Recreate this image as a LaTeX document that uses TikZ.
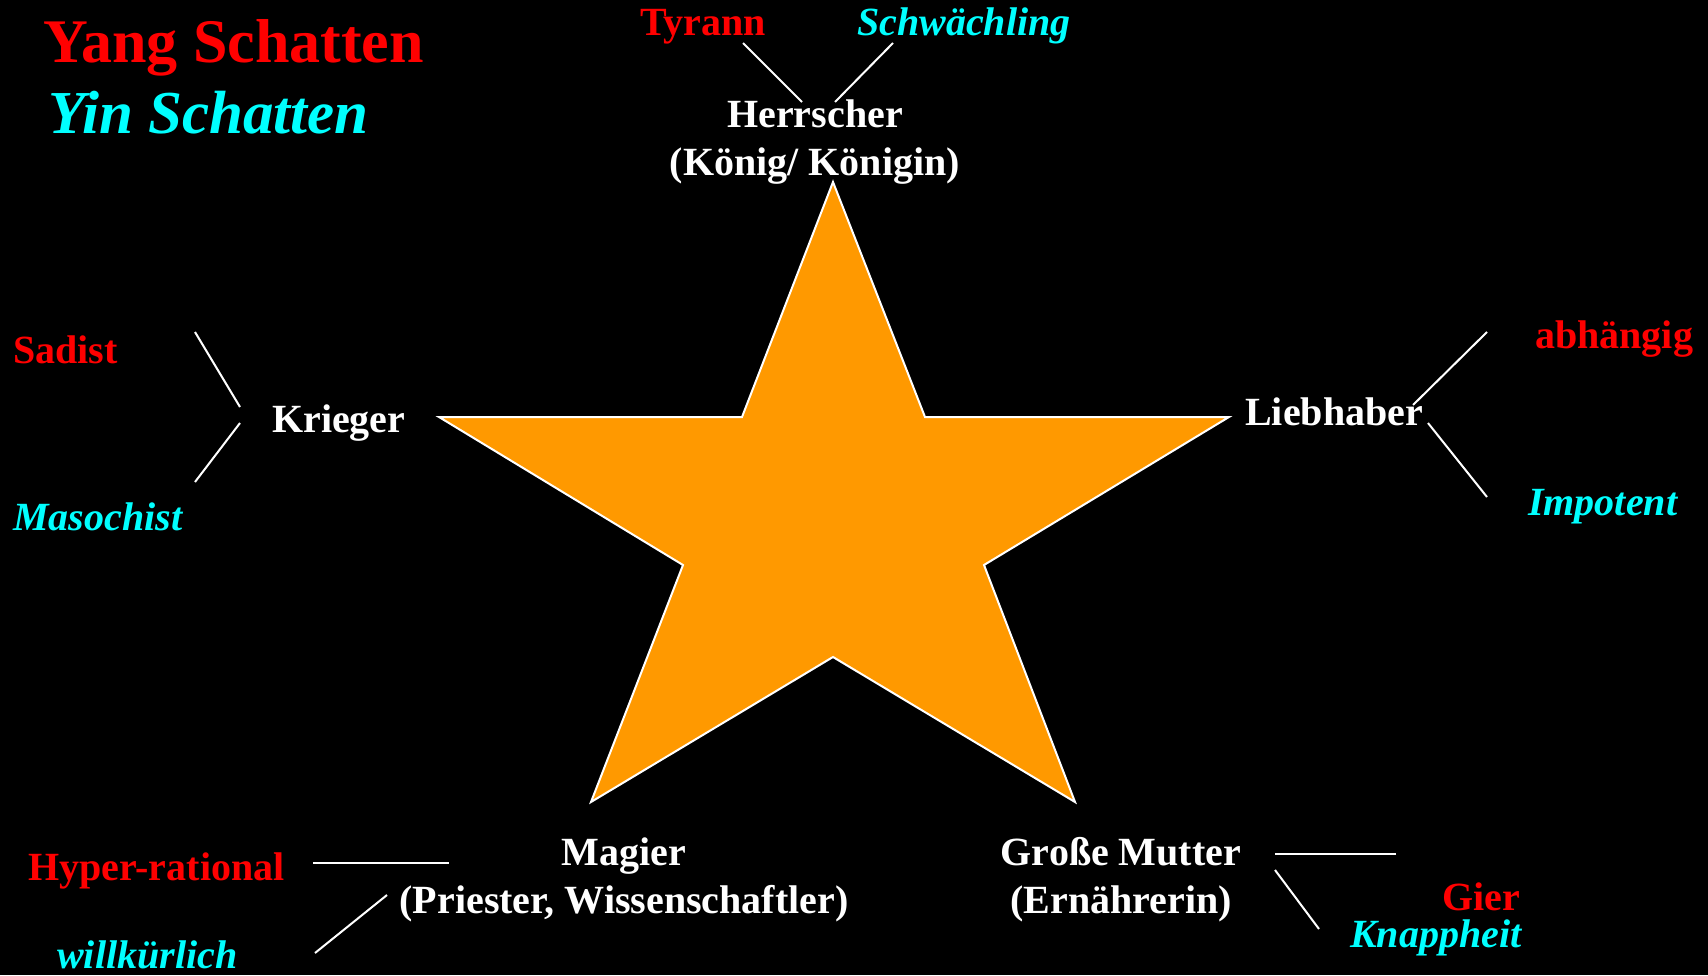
\documentclass[tikz,border=0pt]{standalone}
\usepackage{fontspec}
\setmainfont{Liberation Serif}
\usetikzlibrary{positioning}
\definecolor{yangred}{RGB}{255,0,0}
\definecolor{yincyan}{RGB}{0,255,255}
\definecolor{starorange}{RGB}{255,153,0}

\begin{document}
\begin{tikzpicture}[x=1pt, y=-1pt,
  arch/.style={text=white, font=\fontsize{40}{48}\selectfont\bfseries, inner sep=0pt, align=center, anchor=base},
  yang/.style={text=yangred, font=\fontsize{40}{48}\selectfont\bfseries, inner sep=0pt, anchor=base west},
  yin/.style={text=yincyan, font=\fontsize{40}{48}\selectfont\bfseries\itshape, inner sep=0pt, anchor=base west},
  link/.style={draw=white, line width=2pt},
  stern/.style={draw=white, line width=2pt, fill=starorange, line join=miter}
]
\fill[black] (0,0) rectangle (1708,975);
\useasboundingbox (0,0) rectangle (1708,975);
% legend
\node[yang, font=\fontsize{62}{72}\selectfont\bfseries] (legyang) at (43,62) {Yang Schatten};
\node[yin, font=\fontsize{61}{72}\selectfont\bfseries\itshape] (legyin) at (48,133) {Yin Schatten};
% star
\draw[stern] (833,182) -- (925,417) -- (1229,417) -- (984,565) -- (1075,802)
  -- (833,657) -- (591,802) -- (683,565) -- (439,417) -- (742,417) -- cycle;
% archetypes (base = last line)
\node[arch] (herrscher) at (815,175) {Herrscher\\(König/ Königin)};
\node[arch, anchor=base west] (krieger) at (272,432) {Krieger};
\node[arch, anchor=base west] (liebhaber) at (1245,425) {Liebhaber};
\node[arch] (magier) at (624,913) {Magier\\(Priester, Wissenschaftler)};
\node[arch] (mutter) at (1121,913) {Große Mutter\\(Ernährerin)};
% shadows
\node[yang] (tyrann) at (640,35) {Tyrann};
\node[yin] (schwach) at (857,35) {Schwächling};
\node[yang] (sadist) at (13,363) {Sadist};
\node[yin] (maso) at (13,530) {Masochist};
\node[yang] (abh) at (1535,348) {abhängig};
\node[yin] (impo) at (1528,515) {Impotent};
\node[yang] (hyper) at (28,880) {Hyper-rational};
\node[yin] (willk) at (57,968) {willkürlich};
\node[yang] (gier) at (1442,910) {Gier};
\node[yin] (knapp) at (1350,947) {Knappheit};
% link ends
\coordinate (ty1) at (743,43);   \coordinate (ty2) at (802,102);
\coordinate (sw1) at (893,43);   \coordinate (sw2) at (835,102);
\coordinate (sa1) at (195,332);  \coordinate (sa2) at (240,407);
\coordinate (ma1) at (195,482);  \coordinate (ma2) at (240,423);
\coordinate (ab1) at (1487,332); \coordinate (ab2) at (1413,405);
\coordinate (im1) at (1487,497); \coordinate (im2) at (1428,423);
\coordinate (hy1) at (313,863);  \coordinate (hy2) at (449,863);
\coordinate (wi1) at (315,953);  \coordinate (wi2) at (387,895);
\coordinate (gi1) at (1396,854); \coordinate (gi2) at (1275,854);
\coordinate (kn1) at (1319,929); \coordinate (kn2) at (1275,870);
\foreach \a in {ty,sw,sa,ma,ab,im,hy,wi,gi,kn}
  \draw[link] (\a1) -- (\a2);
\end{tikzpicture}
\end{document}
